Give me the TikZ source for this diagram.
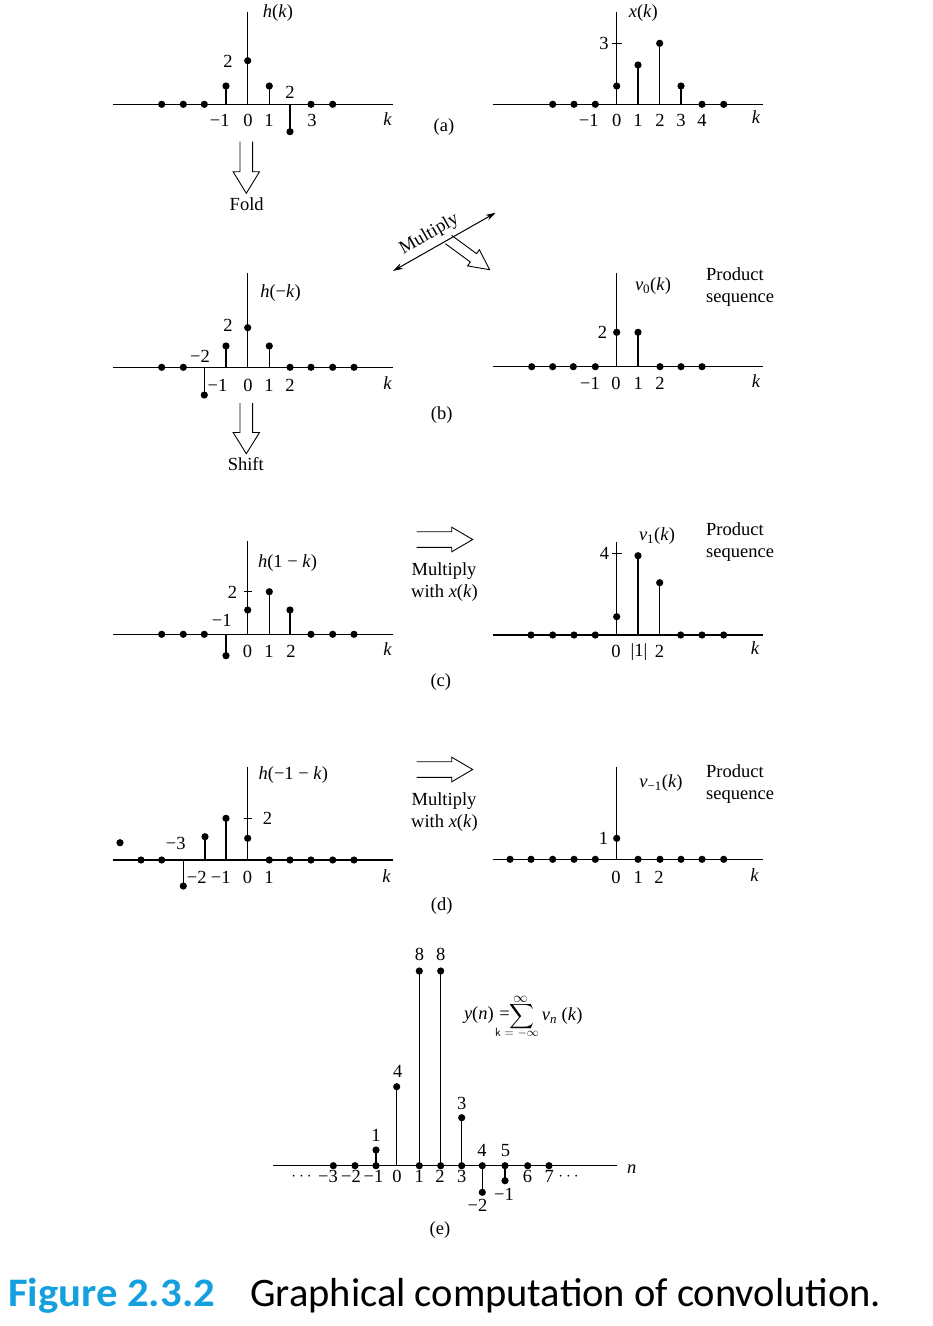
\documentclass[tikz,border=0pt]{standalone}
\usepackage{amsmath}
\usepackage{fontspec}
\setmainfont{Liberation Serif}
\newfontfamily\capfont{Carlito}
\usetikzlibrary{arrows.meta}
\definecolor{figcyan}{RGB}{20,160,222}
\newcommand\sdot[2]{\fill (#1,#2) circle (3.6);}
\newcommand\stm[3]{\draw[stemline] (#1,#2) -- (#1,#3); \fill (#1,#3) circle (3.6);}
\newcommand\hollow[7]{\begin{scope}[shift={(#1,#2)},rotate=#3]\draw[hollowar] (0,-#5) -- (#4,-#5) -- (#4,-#6) -- ({#4+#7},0) -- (#4,#6) -- (#4,#5) -- (0,#5);\end{scope}}
\begin{document}
\begin{tikzpicture}[x=1pt,y=-1pt,
  axisline/.style={line width=1.1pt},
  stemline/.style={line width=1.05pt},
  hollowar/.style={line width=0.9pt, line join=miter},
  lab/.style={inner sep=0pt},
  font=\fontsize{18.5}{22}\selectfont]
\useasboundingbox (0,0) rectangle (933,1326);

% ---------- (a) left : h(k)
\draw[axisline] (113,104.3) -- (393,104.3);
\draw[axisline] (247.7,11.7) -- (247.7,104.3);
\foreach \x in {161.7,183.3,204.3,311,332.7} {\sdot{\x}{104.3}}
\stm{226}{104.3}{86}
\stm{247.7}{104.3}{60.7}
\stm{269.3}{104.3}{86}
\stm{290}{104.3}{131.7}
\node[lab] (ahk) at (278,13.5) {\textit{h}(\textit{k})};
\node[lab] (a2a) at (228,61) {2};
\node[lab] (a2b) at (290,92) {2};
\node[lab] (atm1) at (219.7,120.5) {−1};
\node[lab] (at0) at (248,120.5) {0};
\node[lab] (at1) at (269,120.5) {1};
\node[lab] (at3) at (312,120.5) {3};
\node[lab] (ak) at (387.5,119) {\textit{k}};
\node[lab] (alab) at (444,127.5) {(a)};
\hollow{246.3}{141.7}{-90}{30}{6.35}{13.2}{21.6}
\node[lab] (fold) at (246.7,203.7) {Fold};

% ---------- (a) right : x(k)
\draw[axisline] (492.7,104.3) -- (762.7,104.3);
\draw[axisline] (616.7,11.7) -- (616.7,104.3);
\draw[axisline] (612.3,43.3) -- (621.7,43.3);
\foreach \x in {552.7,574,595.3,702,723.7} {\sdot{\x}{104.3}}
\stm{616.7}{104.3}{86}
\stm{638}{104.3}{65}
\stm{659.7}{104.3}{43.3}
\stm{681}{104.3}{86}
\node[lab] (axk) at (643.3,13.5) {\textit{x}(\textit{k})};
\node[lab] (ax3) at (604,43.6) {3};
\node[lab] (bxm1) at (588.7,120.5) {−1};
\node[lab] (bx0) at (616.8,120.5) {0};
\node[lab] (bx1) at (638,120.5) {1};
\node[lab] (bx2) at (660,120.5) {2};
\node[lab] (bx3) at (681,120.5) {3};
\node[lab] (bx4) at (702,120.5) {4};
\node[lab] (bxk) at (756,117) {\textit{k}};

% ---------- Multiply (double arrow)
\coordinate (ml) at (393,271);
\coordinate (mr) at (495.7,212.7);
\draw[line width=1pt, {Stealth[length=10pt,width=6pt]}-{Stealth[length=10pt,width=6pt]}] (ml) -- node[pos=0.42, sloped, above=5pt, lab] (mult) {Multiply} (mr);
\hollow{448.5}{239.5}{-36.3}{31}{5.2}{10}{20}

% ---------- (b) left : h(-k)
\draw[axisline] (113,367.3) -- (393,367.3);
\draw[axisline] (247.7,273.3) -- (247.7,367.3);
\foreach \x in {161.7,183.3,290,311,332.7,354} {\sdot{\x}{367.3}}
\stm{204.3}{367.3}{395}
\stm{226}{367.3}{346}
\stm{247.7}{367.3}{327.7}
\stm{269.3}{367.3}{346}
\node[lab] (bhk) at (280.5,293) {\textit{h}(−\textit{k})};
\node[lab] (b2) at (228,325) {2};
\node[lab] (bm2) at (200,356) {−2};
\node[lab] (btm1) at (217.5,385.5) {−1};
\node[lab] (bt0) at (248,385.5) {0};
\node[lab] (bt1) at (269,385.5) {1};
\node[lab] (bt2) at (290,385.5) {2};
\node[lab] (bk) at (387.5,383) {\textit{k}};
\node[lab] (blab) at (441.7,415.5) {(b)};
\hollow{246.3}{403}{-90}{29.5}{6.35}{13.2}{21.2}
\node[lab] (shift) at (245.8,464) {Shift};

% ---------- (b) right : v0(k)
\draw[axisline] (492.7,366.7) -- (762.7,366.7);
\draw[axisline] (616.7,273) -- (616.7,366.7);
\foreach \x in {531.7,552.7,573.3,595.3,660,681,702} {\sdot{\x}{366.7}}
\stm{616.7}{366.7}{332.3}
\stm{638}{366.7}{332.3}
\node[lab] (v02) at (602.5,332.5) {2};
\node[lab] (v0k) at (653,286.5) {\textit{v}\textsubscript{0}(\textit{k})};
\node[lab, anchor=base west] (p1) at (706,280) {Product};
\node[lab, anchor=base west] (s1) at (706,302) {sequence};
\node[lab] (ctm1) at (590,383) {−1};
\node[lab] (ct0) at (616,383) {0};
\node[lab] (ct1) at (638.3,383) {1};
\node[lab] (ct2) at (660,383) {2};
\node[lab] (ck) at (756,381) {\textit{k}};

% ---------- (c) left : h(1-k)
\draw[axisline] (113,634.3) -- (393,634.3);
\draw[axisline] (247.7,541) -- (247.7,634.3);
\draw[axisline] (243.5,591.7) -- (251.5,591.7);
\foreach \x in {161.7,183.3,204.3,311,332.7,354} {\sdot{\x}{634.3}}
\stm{226}{634.3}{655.7}
\stm{247.7}{634.3}{610}
\stm{269.3}{634.3}{591.7}
\stm{290}{634.3}{610}
\node[lab] (chk) at (287.5,563.5) {\textit{h}(1 − \textit{k})};
\node[lab] (c2) at (232.5,592) {2};
\node[lab] (cm1) at (221.7,620) {−1};
\node[lab] (dt0) at (247.5,651) {0};
\node[lab] (dt1) at (269,651) {1};
\node[lab] (dt2) at (291,651) {2};
\node[lab] (dk) at (387.5,649) {\textit{k}};
\node[lab] (clab) at (440.8,681.7) {(c)};
\hollow{416.7}{539.5}{0}{35}{7.8}{12.3}{21}
\node[lab] (cm) at (444,571) {Multiply};
\node[lab] (cw) at (444.5,593) {with \textit{x}(\textit{k})};

% ---------- (c) right : v1(k)
\draw[axisline] (492.7,635) -- (762.7,635);
\draw[axisline] (616.7,541.7) -- (616.7,635);
\draw[axisline] (612.3,553.3) -- (621.7,553.3);
\foreach \x in {531,552.7,574,595.3,680.7,702,723.7} {\sdot{\x}{635}}
\stm{616.7}{635}{616.7}
\stm{638}{635}{555.7}
\stm{659.7}{635}{582.7}
\node[lab] (v14) at (604.5,553.5) {4};
\node[lab] (v1k) at (657,536) {\textit{v}\textsubscript{1}(\textit{k})};
\node[lab, anchor=base west] (p2) at (706,535) {Product};
\node[lab, anchor=base west] (s2) at (706,557) {sequence};
\node[lab] (et0) at (616,651.7) {0};
\node[lab] (et1) at (639,651.7) {|1|};
\node[lab] (et2) at (659.5,651.7) {2};
\node[lab] (ek) at (755,648.5) {\textit{k}};

% ---------- (d) left : h(-1-k)
\draw[axisline] (113,860) -- (393,860);
\draw[axisline] (247.7,766.7) -- (247.7,860);
\draw[axisline] (243.5,818.3) -- (251.5,818.3);
\sdot{120}{842.7}
\foreach \x in {141,161.7,269.3,290,311,332.7,354} {\sdot{\x}{860}}
\stm{183.3}{860}{886}
\stm{205}{860}{836.7}
\stm{226}{860}{818.3}
\stm{247.7}{860}{838.3}
\node[lab] (dhk) at (293.3,775.5) {\textit{h}(−1 − \textit{k})};
\node[lab] (d2) at (267.5,818) {2};
\node[lab] (dm3) at (175.8,843) {−3};
\node[lab] (ftm2) at (196.7,877) {−2};
\node[lab] (ftm1) at (220.8,877) {−1};
\node[lab] (ft0) at (247.5,877) {0};
\node[lab] (ft1) at (269,877) {1};
\node[lab] (fk) at (386.7,876) {\textit{k}};
\node[lab] (dlab) at (441.7,906.5) {(d)};
\hollow{416.7}{769.5}{0}{35}{7.8}{12.3}{21}
\node[lab] (dm) at (444,801) {Multiply};
\node[lab] (dw) at (444.5,823) {with \textit{x}(\textit{k})};

% ---------- (d) right : v_{-1}(k)
\draw[axisline] (492.7,859.3) -- (762.7,859.3);
\draw[axisline] (616.7,766.7) -- (616.7,859.3);
\foreach \x in {510,531,552.7,574,595.3,638,660,681,702,723.7} {\sdot{\x}{859.3}}
\stm{616.7}{859.3}{838.3}
\node[lab] (vm11) at (603.5,838.5) {1};
\node[lab] (vm1k) at (661,783) {\textit{v}\textsubscript{−1}(\textit{k})};
\node[lab, anchor=base west] (p3) at (706,777) {Product};
\node[lab, anchor=base west] (s3) at (706,799) {sequence};
\node[lab] (gt0) at (616,877) {0};
\node[lab] (gt1) at (638.3,877) {1};
\node[lab] (gt2) at (659,877) {2};
\node[lab] (gk) at (754.5,875) {\textit{k}};

% ---------- (e) : y(n)
\draw[axisline] (273.3,1165.7) -- (616.7,1165.7);
\foreach \x in {333.3,355,419.3,440.7,461.7,482.3,505,527.7,549} {\sdot{\x}{1165.7}}
\sdot{376}{1165.7}
\stm{376}{1165.7}{1150}
\draw[stemline] (396.7,1165.7) -- (396.7,1086.7); \fill (396.7,1086.7) circle (3.6);
\stm{419.3}{1165.7}{971}
\stm{440.7}{1165.7}{971}
\stm{461.7}{1165.7}{1117.7}
\stm{482.3}{1165.7}{1192.3}
\stm{505}{1165.7}{1180.7}
\node[lab] (e8a) at (419.5,954) {8};
\node[lab] (e8b) at (440.8,954) {8};
\node[lab] (e4) at (397.8,1071) {4};
\node[lab] (e3) at (461.7,1103) {3};
\node[lab] (e1) at (376,1135.5) {1};
\node[lab] (e4b) at (482,1150.5) {4};
\node[lab] (e5) at (505.5,1150.5) {5};
\node[lab] (edl) at (303,1177) {$\cdots$};
\node[lab] (em3) at (328,1176) {−3};
\node[lab] (em2) at (351,1176) {−2};
\node[lab] (em1) at (373.5,1176) {−1};
\node[lab] (e0) at (397,1176) {0};
\node[lab] (ee1) at (419.2,1176) {1};
\node[lab] (ee2) at (440,1176) {2};
\node[lab] (ee3) at (461.7,1176) {3};
\node[lab] (ee6) at (527.5,1176) {6};
\node[lab] (ee7) at (549.2,1176) {7};
\node[lab] (edr) at (570,1177) {$\cdots$};
\node[lab] (en2) at (477.5,1205) {−2};
\node[lab] (en1) at (504,1194) {−1};
\node[lab] (en) at (631.7,1169) {\textit{n}};
\node[lab] (elab) at (440,1230.5) {(e)};
% formula
\node[lab, anchor=east] (yn) at (510,1015.5) {\textit{y}(\textit{n})\hspace{0.3em}=};
\node[lab] (sig) at (521.7,1016.5) {\fontsize{16.5}{16.5}\selectfont$\displaystyle\sum$};
\node[lab] (inf) at (520.5,999.5) {\fontsize{15}{15}\selectfont$\infty$};
\node[lab] (kinf) at (517,1033) {\sffamily\fontsize{12}{12}\selectfont k = $-\infty$};
\node[lab, anchor=west] (vnk) at (541.7,1016) {\textit{v}\textsubscript{\textit{n}} (\textit{k})};

% ---------- caption
\node[lab, anchor=base west] (figno) at (8,1306) {\capfont\fontsize{40.5}{40.5}\selectfont\bfseries\color{figcyan}\scalebox{1.055}[1]{Figure 2.3.2}};
\node[lab, anchor=base west] (figtxt) at (250,1306) {\capfont\fontsize{40.5}{40.5}\selectfont Graphical computation of convolution.};
\end{tikzpicture}
\end{document}
